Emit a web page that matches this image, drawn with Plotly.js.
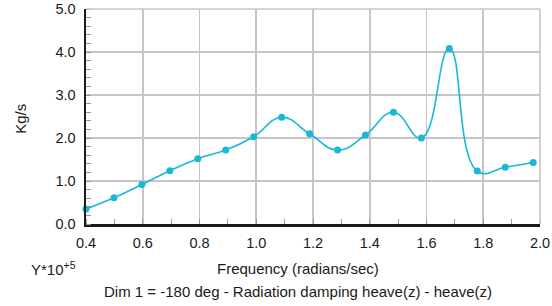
<!DOCTYPE html>
<html>
<head>
<meta charset="utf-8">
<script src="https://cdn.plot.ly/plotly-3.0.1.min.js"></script>
<style>html,body{margin:0;padding:0;background:#fff;}#chart{width:552px;height:306px;}</style>
</head>
<body>
<div id="chart"></div>
<script>
const frequency = [0.4, 0.4985, 0.597, 0.6955, 0.794, 0.8925, 0.991, 1.0895, 1.188, 1.2865, 1.385, 1.4835, 1.582, 1.6805, 1.779, 1.8775, 1.976];
const damping = [0.35, 0.61, 0.92, 1.24, 1.52, 1.72, 2.03, 2.48, 2.10, 1.72, 2.07, 2.60, 2.00, 4.08, 1.23, 1.32, 1.43];
const xTickVals = [0.4, 0.6, 0.8, 1.0, 1.2, 1.4, 1.6, 1.8, 2.0];
const xTickText = ["0.4", "0.6", "0.8", "1.0", "1.2", "1.4", "1.6", "1.8", "2.0"];
const yTickVals = [0, 1, 2, 3, 4, 5];
const yTickText = ["0.0", "1.0", "2.0", "3.0", "4.0", "5.0"];

const FONT = "Liberation Sans, Arial, sans-serif";
const lineColor = "#19b9d6";
const gridColor = "#c6c6ca";
const textColor = "#1a1a1a";

const trace = {
  x: frequency, y: damping,
  type: "scatter", mode: "lines+markers",
  line: {color: lineColor, width: 1.6, shape: "spline", smoothing: 1.3},
  marker: {color: lineColor, size: 7},
  cliponaxis: false,
  hoverinfo: "x+y"
};

const layout = {
  width: 552, height: 306,
  margin: {l: 86, r: 12, t: 9, b: 82},
  paper_bgcolor: "#fff", plot_bgcolor: "#fff",
  showlegend: false,
  font: {family: FONT, size: 15, color: textColor},
  xaxis: {
    range: [0.4, 2.0], tickvals: xTickVals, ticktext: xTickText,
    showgrid: true, gridcolor: gridColor, gridwidth: 1.6,
    zeroline: false, showline: true, linecolor: "#1a1a1a", linewidth: 2.5,
    ticks: "", ticklabelstandoff: 4, ticklabeloverflow: "allow",
    minor: {dtick: 0.1, tick0: 0.4, ticks: "inside", ticklen: 5, tickcolor: "#999", tickwidth: 1, showgrid: false},
    tickfont: {family: FONT, size: 14.5, color: textColor},
    fixedrange: true
  },
  yaxis: {
    range: [0, 5], tickvals: yTickVals, ticktext: yTickText,
    showgrid: true, gridcolor: gridColor, gridwidth: 1.6,
    zeroline: false, showline: true, linecolor: "#1a1a1a", linewidth: 2.5,
    ticks: "", ticklabeloverflow: "allow", ticklabelstandoff: 5,
    minor: {dtick: 0.2, tick0: 0, ticks: "inside", ticklen: 5, tickcolor: "#999", tickwidth: 1, showgrid: false},
    tickfont: {family: FONT, size: 14.5, color: textColor},
    fixedrange: true
  },
  shapes: [
    {type: "line", xref: "paper", yref: "paper", x0: 1, x1: 1, y0: 0, y1: 1, line: {color: gridColor, width: 1.6}},
    {type: "line", xref: "paper", yref: "paper", x0: 0, x1: 1, y0: 1, y1: 1, line: {color: gridColor, width: 1.6}}
  ],
  annotations: [
    {text: "Kg/s", textangle: -90, xref: "paper", yref: "paper", x: -0.145, y: 0.49, xanchor: "center", yanchor: "middle", showarrow: false, font: {family: FONT, size: 15, color: textColor}},
    {text: "Y*10<sup>+5</sup>", xref: "paper", yref: "paper", x: -0.125, y: -0.205, xanchor: "left", yanchor: "middle", showarrow: false, font: {family: FONT, size: 15, color: textColor}},
    {text: "Frequency (radians/sec)", xref: "paper", yref: "paper", x: 0.467, y: -0.205, xanchor: "center", yanchor: "middle", showarrow: false, font: {family: FONT, size: 15, color: textColor}},
    {text: "Dim 1 = -180 deg - Radiation damping heave(z) - heave(z)", xref: "paper", yref: "paper", x: 0.467, y: -0.315, xanchor: "center", yanchor: "middle", showarrow: false, font: {family: FONT, size: 15, color: textColor}}
  ]
};

Plotly.newPlot("chart", [trace], layout, {displayModeBar: false, staticPlot: true});
</script>
</body>
</html>
